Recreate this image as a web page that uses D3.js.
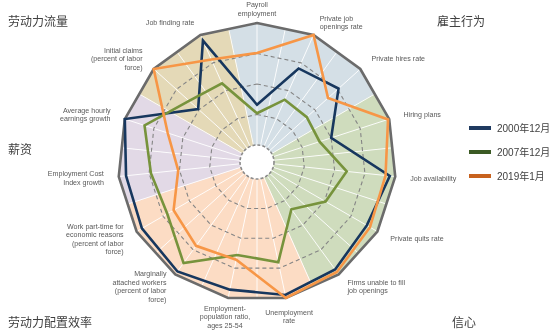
<!DOCTYPE html>
<html><head><meta charset="utf-8">
<script src="https://cdn.jsdelivr.net/npm/d3@7"></script>
<style>html,body{margin:0;padding:0;background:#fff;}svg{display:block;will-change:transform;}</style>
</head><body>
<svg id="c" width="550" height="333"></svg>
<script>
// ---- data ----
const axes = [
  "Payroll|employment",
  "Private job|openings rate",
  "Private hires rate",
  "Hiring plans",
  "Job availability",
  "Private quits rate",
  "Firms unable to fill|job openings",
  "Unemployment|rate",
  "Employment-|population ratio,|ages 25-54",
  "Marginally|attached workers|(percent of labor|force)",
  "Work part-time for|economic reasons|(percent of labor|force)",
  "Employment Cost|Index growth",
  "Average hourly|earnings growth",
  "Initial claims|(percent of labor|force)",
  "Job finding rate"
];
const seriesNames = ["2000年12月", "2007年12月", "2019年1月"];
const s2000 = [0.33, 0.70, 0.76, 0.50, 0.955, 0.90, 0.95, 0.975, 0.93, 0.97, 0.95, 0.94, 1.00, 0.51, 0.95];
const s2007 = [0.26, 0.42, 0.41, 0.40, 0.60, 0.51, 0.34, 0.70, 0.64, 0.885, 0.71, 0.735, 0.83, 0.61, 0.566];
const s2019 = [0.754, 1.00, 0.644, 0.99, 0.92, 0.93, 0.975, 1.00, 0.68, 0.71, 0.65, 0.51, 0.63, 1.00, 0.78];
const groupNames = ["劳动力流量", "雇主行为", "薪资", "劳动力配置效率", "信心"];
// group index of each axis
const axisGroup = [1, 1, 1, 4, 4, 4, 4, 3, 3, 3, 3, 2, 2, 0, 0];
const ringLevels = [0.25, 0.5, 0.75];

// ---- styles ----
const lineColors = ["#17375e", "#77933c", "#f79646"];
const legendColors = ["#1f3a60", "#3b5a24", "#c8621e"];
const groupFill = ["#e4d9b7", "#d4dfe6", "#e2d9e6", "#fcdcc4", "#cfdcbd"];

const svg = d3.select("#c");
const cx = 257, cy = 162;
const n = axes.length;
const step = 2 * Math.PI / n;
const r = d3.scaleLinear().domain([0, 1]).range([17, 139]);
const g = svg.append("g").attr("transform", `translate(${cx},${cy})`);

const radial = d3.lineRadial().angle((d, i) => i * step).radius(d => r(d)).curve(d3.curveLinearClosed);
const outerVals = axes.map(() => 1);

// clip to outer polygon
svg.append("defs").append("clipPath").attr("id", "poly")
  .append("path").attr("d", radial(outerVals));

const clipG = g.append("g").attr("clip-path", "url(#poly)");

// sectors
const sectorArc = d3.arc().innerRadius(0).outerRadius(200);
axes.forEach((a, i) => {
  clipG.append("path")
    .attr("d", sectorArc({startAngle: i * step - step / 2, endAngle: i * step + step / 2}))
    .attr("fill", groupFill[axisGroup[i]])
    .attr("stroke", groupFill[axisGroup[i]]).attr("stroke-width", 0.6);
});

// spokes (axes and mid-axes)
d3.range(2 * n).forEach(k => {
  const ang = k * step / 2;
  clipG.append("line")
    .attr("x1", r(0) * Math.sin(ang)).attr("y1", -r(0) * Math.cos(ang))
    .attr("x2", 150 * Math.sin(ang)).attr("y2", -150 * Math.cos(ang))
    .attr("stroke", "#ffffff").attr("stroke-width", 0.9);
});

// dashed rings
ringLevels.forEach(v => {
  g.append("path").attr("d", radial(axes.map(() => v)))
    .attr("fill", "none").attr("stroke", "#858585").attr("stroke-width", 1.1)
    .attr("stroke-dasharray", "4,3");
});

// outer polygon
g.append("path").attr("d", radial(outerVals))
  .attr("fill", "none").attr("stroke", "#6b6b6b").attr("stroke-width", 2.6)
  .attr("stroke-linejoin", "miter");

// series
[s2000, s2007, s2019].forEach((s, k) => {
  g.append("path").attr("d", radial(s))
    .attr("fill", "none").attr("stroke", lineColors[k]).attr("stroke-width", 2.6)
    .attr("stroke-linejoin", "miter").attr("stroke-miterlimit", 10);
});

// inner hole
g.append("circle").attr("r", r(0)).attr("fill", "#fff")
  .attr("stroke", "#8a8a8a").attr("stroke-width", 1.6).attr("stroke-dasharray", "3,2");

// axis labels
const fs = 7.1, lh = 8.5;
axes.forEach((a, i) => {
  const ang = i * step;
  const sx = Math.sin(ang), sy = -Math.cos(ang);
  const rr = r(1) + 15;
  const x = rr * sx, y = rr * sy;
  const lines = a.split("|");
  const anchor = Math.abs(sx) < 0.25 ? "middle" : (sx > 0 ? "start" : "end");
  let y0 = y - (lines.length - 1) * lh / 2 + fs * 0.35;
  if (sy > 0.9) y0 += 4;
  if (sy < -0.9) y0 += 1;
  const t = g.append("text").attr("text-anchor", anchor)
    .attr("font-family", "Liberation Sans, Arial, sans-serif")
    .attr("font-size", fs).attr("fill", "#595959");
  lines.forEach((l, j) => t.append("tspan").attr("x", x).attr("y", y0 + j * lh).text(l));
});

// group labels in corners
const cjk = "Noto Sans CJK SC, sans-serif";
const corner = [[8, 26, "start"], [437, 26, "start"], [8, 154, "start"], [8, 327, "start"], [452, 327, "start"]];
groupNames.forEach((name, k) => {
  svg.append("text").attr("x", corner[k][0]).attr("y", corner[k][1])
    .attr("text-anchor", corner[k][2]).attr("font-family", cjk)
    .attr("font-size", 12).attr("fill", "#404040").text(name);
});

// legend
const leg = svg.append("g").attr("transform", "translate(469,128)");
seriesNames.forEach((nm, k) => {
  const y = k * 24;
  leg.append("line").attr("x1", 0).attr("x2", 22).attr("y1", y).attr("y2", y)
    .attr("stroke", legendColors[k]).attr("stroke-width", 4);
  leg.append("text").attr("x", 28).attr("y", y + 3.6)
    .attr("font-family", "Liberation Sans, Noto Sans CJK SC, sans-serif")
    .attr("font-size", 10).attr("fill", "#404040").text(nm);
});
</script>
</body></html>
